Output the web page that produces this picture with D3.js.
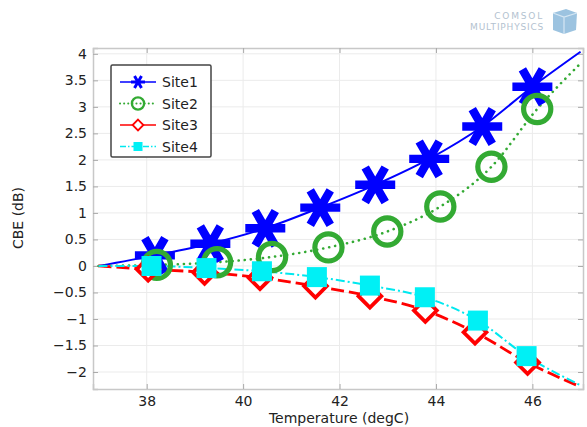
<!DOCTYPE html>
<html>
<head>
<meta charset="utf-8">
<script src="https://cdn.jsdelivr.net/npm/d3@7"></script>
<style>
  body { margin: 0; background: #fff; }
  svg { display: block; font-family: "DejaVu Sans", sans-serif; }
</style>
</head>
<body>
<svg class="chart"></svg>
<script>
// temperature (degC) and CBE (dB); first/last points are line ends
const site1 = [[37, 0], [38.17, 0.2], [39.32, 0.42], [40.46, 0.71], [41.6, 1.1], [42.74, 1.53], [43.86, 2.02], [44.96, 2.63], [46.0, 3.38], [47, 4.04]];
const site2 = [[37, 0], [38.21, 0.02], [39.46, 0.07], [40.6, 0.17], [41.77, 0.35], [42.99, 0.65], [44.09, 1.12], [45.15, 1.87], [46.1, 2.96], [47, 3.82]];
const site3 = [[37, 0], [38.03, -0.06], [39.2, -0.12], [40.35, -0.22], [41.5, -0.38], [42.63, -0.57], [43.78, -0.84], [44.81, -1.25], [45.9, -1.82], [47, -2.28]];
const site4 = [[37, 0], [38.1, 0], [39.24, -0.04], [40.39, -0.1], [41.53, -0.21], [42.63, -0.37], [43.77, -0.59], [44.87, -1.03], [45.88, -1.7], [47, -2.25]];
const seriesNames = [`Site1`, `Site2`, `Site3`, `Site4`];
const xTicks = [38, 40, 42, 44, 46];
const yTicks = [-2, -1.5, -1, -0.5, 0, 0.5, 1, 1.5, 2, 2.5, 3, 3.5, 4];

const width = 587;
const height = 427;
const m = { left: 93, right: 583, top: 48, bottom: 389 };

const svg = d3.select(`.chart`)
    .attr(`width`, width)
    .attr(`height`, height);

const x = d3.scaleLinear().domain([36.886, 47.05]).range([m.left, m.right]);
const y = d3.scaleLinear().domain([-2.32, 4.11]).range([m.bottom, m.top]);

// COMSOL logo
const logo = svg.append(`g`).attr(`fill`, `#b3c2d0`);
logo.append(`text`).attr(`x`, 544).attr(`y`, 19).attr(`text-anchor`, `end`)
    .attr(`font-size`, 9).attr(`letter-spacing`, 1.8).text(`COMSOL`);
logo.append(`text`).attr(`x`, 544).attr(`y`, 30).attr(`text-anchor`, `end`)
    .attr(`font-size`, 9).attr(`letter-spacing`, 0.8).text(`MULTIPHYSICS`);
logo.append(`path`).attr(`d`, `M553,13 L566,9 L577,13 L576,30 L564,34 L553,30 Z`).attr(`fill`, `#9cc3e0`);
logo.append(`path`).attr(`d`, `M553,13 L564,17 L577,13 M564,17 L564,34`).attr(`stroke`, `#d6e7f3`).attr(`stroke-width`, 1.2).attr(`fill`, `none`);

// grid
const grid = svg.append(`g`).attr(`stroke`, `#ebebeb`).attr(`stroke-width`, 1);
grid.selectAll(`.gx`).data(xTicks).enter().append(`line`)
    .attr(`x1`, d => x(d)).attr(`x2`, d => x(d)).attr(`y1`, m.top).attr(`y2`, m.bottom);
grid.selectAll(`.gy`).data(yTicks).enter().append(`line`)
    .attr(`x1`, m.left).attr(`x2`, m.right).attr(`y1`, d => y(d)).attr(`y2`, d => y(d));

// frame with inward ticks
const xAxisB = d3.axisBottom(x).tickValues(xTicks).tickSize(-5).tickPadding(7);
const xAxisT = d3.axisTop(x).tickValues(xTicks).tickSize(-5).tickFormat(``);
const yAxisL = d3.axisLeft(y).tickValues(yTicks).tickSize(-5).tickPadding(6).tickFormat(d3.format(`~g`));
const yAxisR = d3.axisRight(y).tickValues(yTicks).tickSize(-5).tickFormat(``);

svg.append(`g`).attr(`transform`, `translate(0,${m.bottom})`).call(xAxisB);
svg.append(`g`).attr(`transform`, `translate(0,${m.top})`).call(xAxisT);
svg.append(`g`).attr(`transform`, `translate(${m.left},0)`).call(yAxisL);
svg.append(`g`).attr(`transform`, `translate(${m.right},0)`).call(yAxisR);
svg.selectAll(`.domain`).attr(`stroke`, `#c8c8c8`).attr(`stroke-width`, 1.5);
svg.selectAll(`.tick line`).attr(`stroke`, `#aaa`);
svg.selectAll(`.tick text`).attr(`font-size`, 14).attr(`fill`, `#222`)
    .attr(`font-family`, `"DejaVu Sans", sans-serif`);

svg.append(`text`).attr(`x`, 339).attr(`y`, 423).attr(`text-anchor`, `middle`)
    .attr(`font-size`, 14).attr(`fill`, `#222`).text(`Temperature (degC)`);
svg.append(`text`).attr(`transform`, `translate(23,218) rotate(-90)`).attr(`text-anchor`, `middle`)
    .attr(`font-size`, 14).attr(`fill`, `#222`).text(`CBE (dB)`);

// marker shapes
const starPath = (s) => {
    const a = s * Math.cos(Math.PI / 3), b = s * Math.sin(Math.PI / 3);
    return `M${-s},0L${s},0M${-a},${-b}L${a},${b}M${a},${-b}L${-a},${b}`;
};
const drawMarker = (g, kind, s) => {
    if (kind === 0) {
        g.append(`path`).attr(`d`, starPath(s)).attr(`stroke`, `#0000ff`).attr(`stroke-width`, s * 0.42).attr(`fill`, `none`);
    } else if (kind === 1) {
        g.append(`circle`).attr(`r`, s * 0.68).attr(`fill`, `none`).attr(`stroke`, `#33aa33`).attr(`stroke-width`, s * 0.26);
    } else if (kind === 2) {
        const r = s * 0.6;
        g.append(`path`).attr(`d`, `M0,${-r}L${r},0L0,${r}L${-r},0Z`).attr(`fill`, `#fff`)
            .attr(`stroke`, `#ff0000`).attr(`stroke-width`, s * 0.2);
    } else {
        const h = s * 0.5;
        g.append(`rect`).attr(`x`, -h).attr(`y`, -h).attr(`width`, 2 * h).attr(`height`, 2 * h).attr(`fill`, `#00f0f5`);
    }
};

const styles = [
    { color: `#0000ff`, width: 2, dash: null, cap: `butt` },
    { color: `#33aa33`, width: 2.6, dash: `0.1,6`, cap: `round` },
    { color: `#ff0000`, width: 2.8, dash: `13,5`, cap: `butt` },
    { color: `#00e8ef`, width: 2, dash: `9,3,2,3`, cap: `butt` }
];
const allSeries = [site1, site2, site3, site4];
const line = d3.line().x(d => x(d[0])).y(d => y(d[1])).curve(d3.curveMonotoneX);

const plot = svg.append(`g`);
allSeries.forEach((data, i) => {
    const st = styles[i];
    plot.append(`path`).datum(data).attr(`d`, line).attr(`fill`, `none`)
        .attr(`stroke`, st.color).attr(`stroke-width`, st.width)
        .attr(`stroke-dasharray`, st.dash).attr(`stroke-linecap`, st.cap);
});
const markerSizes = [20, 20, 19, 20];
allSeries.forEach((data, i) => {
    data.slice(1, -1).forEach(d => {
        const g = plot.append(`g`).attr(`transform`, `translate(${x(d[0])},${y(d[1])})`);
        drawMarker(g, i, markerSizes[i]);
    });
});

// legend
const legend = svg.append(`g`).attr(`transform`, `translate(111,65)`);
legend.append(`rect`).attr(`width`, 100).attr(`height`, 92).attr(`fill`, `#fff`)
    .attr(`stroke`, `#444`).attr(`stroke-width`, 1.5).attr(`rx`, 1.5);
seriesNames.forEach((name, i) => {
    const st = styles[i];
    const ly = 17 + i * 21.5;
    legend.append(`line`).attr(`x1`, 9).attr(`x2`, 45).attr(`y1`, ly).attr(`y2`, ly)
        .attr(`stroke`, st.color).attr(`stroke-width`, i === 1 ? 2 : 1.6)
        .attr(`stroke-dasharray`, i === 1 ? `0.1,4` : i === 3 ? `6,2,1.5,2` : null)
        .attr(`stroke-linecap`, st.cap);
    const g = legend.append(`g`).attr(`transform`, `translate(27,${ly})`);
    drawMarker(g, i, i === 0 ? 7 : 9);
    legend.append(`text`).attr(`x`, 51).attr(`y`, ly + 5).attr(`font-size`, 14).attr(`fill`, `#222`).text(name);
});
</script>
</body>
</html>
